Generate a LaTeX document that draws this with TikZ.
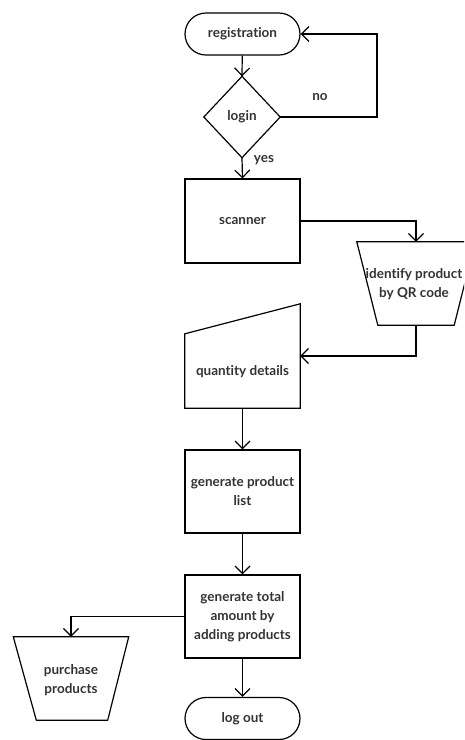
\documentclass[tikz,border=0pt]{standalone}
\usepackage{fontspec}
\setmainfont{Lato}[Ligatures={NoCommon}]
\usetikzlibrary{arrows.meta,calc}
\definecolor{txt}{HTML}{333333}
\begin{document}
\begin{tikzpicture}[x=1pt,y=-1pt,
  every node/.style={font=\fontsize{13.5}{19}\selectfont\bfseries, text=txt, align=center, inner sep=0pt},
  shp/.style={draw=black, line width=1.2pt},
  stadium/.style={shp, rounded corners=21pt, minimum width=115pt, minimum height=42pt},
  procbox/.style={shp, minimum width=115pt, minimum height=84pt},
  arr/.style={draw=black, line width=1.2pt, -{Straight Barb[length=7.5pt,width=15pt,line width=1.2pt]}},
  lbl/.style={font=\fontsize{13.5}{15}\selectfont\bfseries}
]
\useasboundingbox (0,0) rectangle (464,740);
\clip (0,0) rectangle (464,740);
% registration
\node[stadium] (reg) at (242.5,34) {registration};
% login diamond
\node[minimum width=76pt, minimum height=81pt] (login) at (242,117) {login};
\draw[shp] (login.north) -- (login.east) -- (login.south) -- (login.west) -- cycle;
% scanner
\node[procbox] (scan) at (242.5,221) {scanner};
% identify product (inverted trapezoid)
\node[minimum width=118pt, minimum height=83pt] (idp) at (416,283.5) {};
\node (idpt) at (414,284) {identify product\\by QR code};
\draw[shp] (idp.north west) -- (idp.north east) -- ($(idp.south east)+(-21,0)$) -- ($(idp.south west)+(21,0)$) -- cycle;
% quantity details (manual input)
\node[minimum width=115pt, minimum height=104pt] (qd) at (242.5,356) {};
\node (qdt) at (242.5,372) {quantity details};
\draw[shp] (qd.south west) -- (qd.south east) -- (qd.north east) -- ($(qd.north west)+(0,30)$) -- cycle;
% generate product list
\node[procbox, minimum height=83pt] (gpl) at (242.5,491.5) {generate product\\list};
% generate total
\node[procbox, minimum height=83pt] (gt) at (242.5,616.5) {generate total\\amount by\\adding products};
% purchase products
\node[minimum width=115pt, minimum height=83pt] (pur) at (71,678.5) {};
\node (purt) at (71,680) {purchase\\products};
\draw[shp] (pur.north west) -- (pur.north east) -- ($(pur.south east)+(-21,0)$) -- ($(pur.south west)+(23,0)$) -- cycle;
% log out
\node[stadium] (lo) at (242.5,718.5) {log out};
% connectors
\coordinate (loopc) at (377,117);
\draw[arr] (reg) -- (login.north);
\draw[arr] (login.east) -- (loopc) |- (reg.east);
\node[lbl] (no) at (320,97) {no};
\draw[arr] (login.south) -- (scan.north);
\node[lbl] (yes) at (264,160) {yes};
\draw[arr] (scan.east) -| (idp.north);
\draw[arr] (idp.south) |- (qd.east);
\draw[arr] (qd.south) -- (gpl.north);
\draw[arr] (gpl.south) -- (gt.north);
\draw[arr] (gt.west) -| (pur.north);
\draw[arr] (gt.south) -- (lo.north);
\end{tikzpicture}
\end{document}
